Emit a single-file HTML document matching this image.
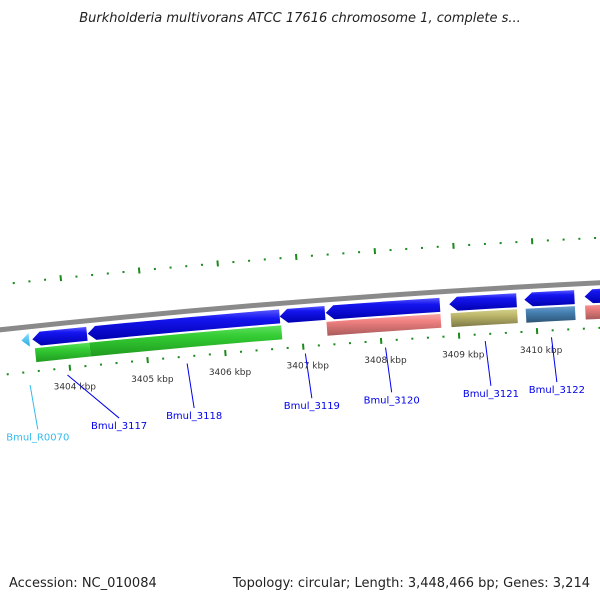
<!DOCTYPE html>
<html><head><meta charset="utf-8"><style>
body{margin:0;background:#fff;}
svg{display:block;font-family:"DejaVu Sans","Liberation Sans",sans-serif;}
</style></head><body>
<svg id="map" width="600" height="600" viewBox="0 0 600 600">
<defs>
<linearGradient id="gBlue" x1="0" y1="0" x2="0" y2="1"><stop offset="0" stop-color="#5a5aff"/><stop offset="0.3" stop-color="#1515f0"/><stop offset="1" stop-color="#0000b0"/></linearGradient>
<linearGradient id="gGreen" x1="0" y1="0" x2="0" y2="1"><stop offset="0" stop-color="#5ee05e"/><stop offset="0.35" stop-color="#33cc33"/><stop offset="1" stop-color="#1f9a1f"/></linearGradient>
<linearGradient id="gPink" x1="0" y1="0" x2="0" y2="1"><stop offset="0" stop-color="#f8a8a8"/><stop offset="0.35" stop-color="#f08080"/><stop offset="1" stop-color="#a85a5a"/></linearGradient>
<linearGradient id="gOlive" x1="0" y1="0" x2="0" y2="1"><stop offset="0" stop-color="#d4d08a"/><stop offset="0.35" stop-color="#bdb76b"/><stop offset="1" stop-color="#7d7845"/></linearGradient>
<linearGradient id="gSteel" x1="0" y1="0" x2="0" y2="1"><stop offset="0" stop-color="#6fa0cc"/><stop offset="0.35" stop-color="#4682b4"/><stop offset="1" stop-color="#2d5576"/></linearGradient>
<linearGradient id="gCyan" x1="0" y1="0" x2="0" y2="1"><stop offset="0" stop-color="#8fe0ff"/><stop offset="1" stop-color="#22aadd"/></linearGradient>
</defs>
<text x="300" y="22" text-anchor="middle" font-size="13" font-style="italic" fill="#222">Burkholderia multivorans ATCC 17616 chromosome 1, complete s...</text>
<g id="layer"></g>
<text x="9" y="587" font-size="13" fill="#222">Accession: NC_010084</text>
<text x="590" y="587" text-anchor="end" font-size="13" fill="#222">Topology: circular; Length: 3,448,466 bp; Genes: 3,214</text>
</svg>
<script>
// data
const geneStarts = [3403.56, 3404.27, 3406.73, 3407.32, 3408.90, 3409.86, 3410.63];
const geneEnds   = [3404.26, 3406.73, 3407.31, 3408.78, 3409.76, 3410.50, 3411.60];
const cdsStarts  = [3403.58, 3404.28, 3407.32, 3408.91, 3409.87, 3410.63];
const cdsEnds    = [3404.28, 3406.74, 3408.78, 3409.76, 3410.50, 3411.60];
const cdsColors  = ["gGreen","gGreen","gPink","gOlive","gSteel","gPink"];
const rnaStarts  = [3403.42];
const rnaEnds    = [3403.52];
const tickMajors = [3404, 3405, 3406, 3407, 3408, 3409, 3410];
const tickLabels = ["3404 kbp","3405 kbp","3406 kbp","3407 kbp","3408 kbp","3409 kbp","3410 kbp"];
const geneLabels = ["Bmul_R0070","Bmul_3117","Bmul_3118","Bmul_3119","Bmul_3120","Bmul_3121","Bmul_3122"];
const geneLabelAnchors = [3403.47, 3403.96, 3405.5, 3407.02, 3408.05, 3409.33, 3410.18];

// geometry
const CX = 1088, CY = 10366, R = 10095;
const T0 = -0.10148, TK = 0.007772;
const ang = kbp => T0 + (kbp - 3404) * TK;
const pt = (r, t) => [CX + r * Math.sin(t), CY - r * Math.cos(t)];
const NS = "http://www.w3.org/2000/svg";
const layer = document.getElementById('layer');
function mk(tag, attrs){ const e = document.createElementNS(NS, tag); for (const k in attrs) e.setAttribute(k, attrs[k]); layer.appendChild(e); return e; }
const f = v => v.toFixed(2);

function band(k1, k2, r1, r2, arrowLeft){
  const t1 = ang(k1), t2 = ang(k2), rm = (r1 + r2) / 2;
  const h = arrowLeft ? 8 / rm : 0;
  const a = pt(rm, t1), b = pt(r2, t1 + h), c = pt(r2, t2), d = pt(r1, t2), e = pt(r1, t1 + h);
  if (arrowLeft) return `M${f(a[0])},${f(a[1])} L${f(b[0])},${f(b[1])} A${r2},${r2} 0 0 1 ${f(c[0])},${f(c[1])} L${f(d[0])},${f(d[1])} A${r1},${r1} 0 0 0 ${f(e[0])},${f(e[1])} Z`;
  return `M${f(b[0])},${f(b[1])} A${r2},${r2} 0 0 1 ${f(c[0])},${f(c[1])} L${f(d[0])},${f(d[1])} A${r1},${r1} 0 0 0 ${f(e[0])},${f(e[1])} Z`;
}

// backbone
{
  const a = pt(R, ang(3402.5)), b = pt(R, ang(3412));
  const bb = mk('path', {d:`M${f(a[0])},${f(a[1])} A${R},${R} 0 0 1 ${f(b[0])},${f(b[1])}`, stroke:'#8a8a8a', 'stroke-width':5, fill:'none'});
  
  
}
// tick rings
for (let i = 0; i <= 60; i++){
  const k = 3402 + i * 0.2;
  const major = Math.abs(k - Math.round(k)) < 1e-6;
  const t = ang(k);
  [R - 45, R + 45].forEach((rr, ri) => {
    const p1 = pt(rr + (major ? 3 : 1), t), p2 = pt(rr - (major ? 3 : 1), t);
    const tk = mk('line', {x1:f(p1[0]), y1:f(p1[1]), x2:f(p2[0]), y2:f(p2[1]), stroke:'#1a8a1a', 'stroke-width':2});
    
    
  });
}
// tick labels
tickMajors.forEach((k, i) => {
  const p = pt(R - 64, ang(k));
  const t = mk('text', {x:f(p[0] + 3), y:f(p[1] + 3), 'text-anchor':'middle', 'font-size':'9', fill:'#333'});
  t.textContent = tickLabels[i];
  
  
});
// gray partial feature at left edge
{
  const gp = mk('path', {d: band(3402.6, 3403.0, R - 36, R - 22, false), fill:'#9a9a9a'});
  
  
}
// genes (reverse strand, blue)
geneStarts.forEach((s, i) => {
  const p = mk('path', {d: band(s, geneEnds[i], R - 20, R - 6, true), fill:'url(#gBlue)'});
  
  
});
// rna
rnaStarts.forEach((s, i) => {
  const p = mk('path', {d: band(s, rnaEnds[i], R - 20, R - 6, true), fill:'url(#gCyan)'});
  
  
});
// cds
cdsStarts.forEach((s, i) => {
  const p = mk('path', {d: band(s, cdsEnds[i], R - 36, R - 22, false), fill:`url(#${cdsColors[i]})`});
  
  
});
// gene labels
geneLabels.forEach((lab, i) => {
  const t = ang(geneLabelAnchors[i]);
  const rOut = i === 0 ? R - 58 : R - 52;
  const rLab = i === 0 ? R - 103 : (i === 1 ? R - 100 : R - 97);
  const p1 = pt(rOut, t);
  const p2 = pt(rLab, t + (i === 1 ? 0.0047 : 0.0003));
  const col = i === 0 ? '#33bbee' : '#0000ee';
  const ln = mk('line', {x1:f(p1[0]), y1:f(p1[1]), x2:f(p2[0]), y2:f(p2[1]), stroke:col, 'stroke-width':1});
  
  
  const tx = mk('text', {x:f(p2[0]), y:f(p2[1] + 11), 'text-anchor':'middle', 'font-size':'10', fill:col});
  tx.textContent = lab;
  
  
});
</script>
</body></html>
